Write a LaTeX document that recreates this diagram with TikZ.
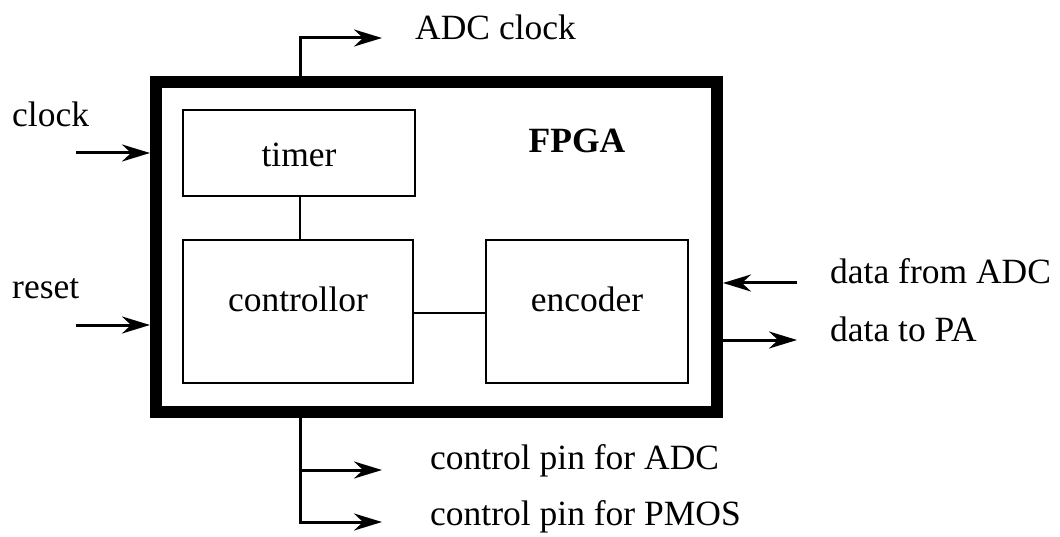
\documentclass[tikz,border=0pt]{standalone}
\usepackage{fontspec}
\setmainfont{Liberation Serif}
\usetikzlibrary{arrows.meta}
\begin{document}
\begin{tikzpicture}[x=1pt,y=-1pt,
  blk/.style={draw, line width=2pt, inner sep=0pt},
  wire/.style={line width=2pt},
  sig/.style={line width=3pt, -{Stealth[length=28pt,width=17pt,inset=9pt]}},
  lbl/.style={font=\fontsize{35.5}{40}\selectfont, inner sep=0pt, anchor=west},
  txt/.style={font=\fontsize{35.5}{40}\selectfont, inner sep=0pt, anchor=base},
  ]
\useasboundingbox (0,0) rectangle (1060,537);
\draw[line width=12pt] (156,82) rectangle (717,412);
\node[txt, font=\fontsize{35.5}{40}\selectfont\bfseries] (fpga) at (577,153) {FPGA};
\node[blk, minimum width=232pt, minimum height=86pt] (timer) at (299,153) {};
\node[blk, minimum width=230pt, minimum height=143pt] (ctrl) at (298,311.5) {};
\node[blk, minimum width=202pt, minimum height=143pt] (enc) at (587,311.5) {};
\node[txt] (timert) at (299,167) {timer};
\node[txt] (ctrlt) at (298,312) {controllor};
\node[txt] (enct) at (587,312) {encoder};
\draw[wire] (timer.south -| 300,0) -- (ctrl.north -| 300,0);
\draw[wire] (ctrl.east |- 0,313) -- (enc.west |- 0,313);
% left inputs
\coordinate (ck0) at (76,153); \coordinate (ck1) at (150,153);
\coordinate (rs0) at (76,325); \coordinate (rs1) at (150,325);
\draw[sig] (ck0) -- (ck1);
\draw[sig] (rs0) -- (rs1);
\node[lbl] (clk) at (12,114) {clock};
\node[lbl] (rst) at (12,289) {reset};
% top output
\coordinate (ad0) at (300,76); \coordinate (ad1) at (382,38);
\draw[sig] (ad0) |- (ad1);
\node[lbl] (adc) at (415,27) {ADC clock};
% right
\coordinate (df0) at (797,283); \coordinate (df1) at (723,283);
\coordinate (dp0) at (723,340); \coordinate (dp1) at (797,340);
\draw[sig] (df0) -- (df1);
\draw[sig] (dp0) -- (dp1);
\node[lbl] (dfa) at (830,271) {data from ADC};
\node[lbl] (dpa) at (830,329) {data to PA};
% bottom
\coordinate (b0) at (300,418); \coordinate (b1) at (382,470); \coordinate (b2) at (382,522);
\draw[sig] (b0) |- (b2);
\draw[sig] (300,470) -- (b1);
\node[lbl] (cpa) at (430,461) {control pin for ADC};
\node[lbl] (cpp) at (430,517) {control pin for PMOS};
\end{tikzpicture}
\end{document}
